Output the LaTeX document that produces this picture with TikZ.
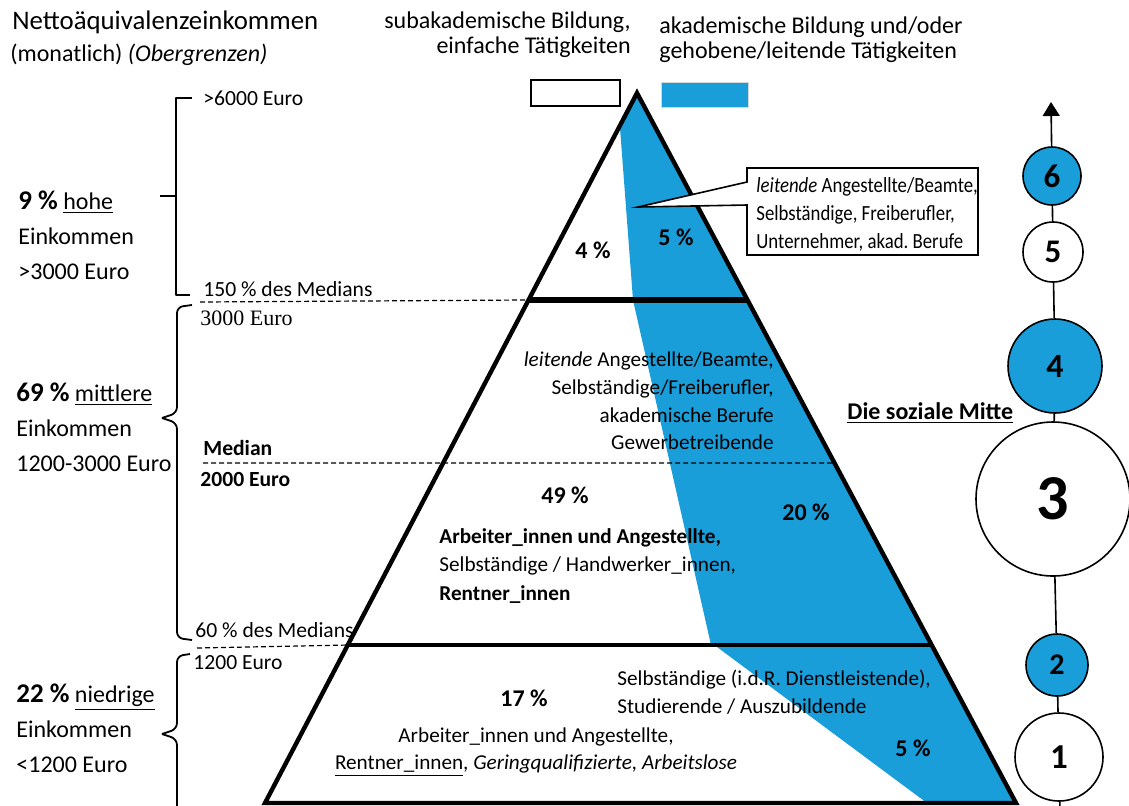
\documentclass[tikz,border=0pt]{standalone}
\usepackage{fontspec}
\setmainfont{Carlito}
\newfontfamily\timesfont{Liberation Serif}
\newfontfamily\narrowfont[FakeStretch=0.87]{Carlito}
\usetikzlibrary{arrows.meta,positioning,calc}
\definecolor{sky}{RGB}{26,158,218}
\definecolor{keyline}{RGB}{215,215,215}
\newcommand{\fs}[2]{\fontsize{#1}{#2}\selectfont}
\newcommand{\share}[1]{{\fs{13.5}{17.5}\bfseries #1}}
\tikzset{
  edge/.style={line width=2.2pt,draw=black,line join=miter},
  lvl/.style={dash pattern=on 2.5pt off 1.5pt,line width=0.6pt},
  brk/.style={line width=0.9pt,line join=round},
  lab/.style={inner sep=0pt,anchor=west,font=\fs{10.8}{13}},
  big/.style={inner sep=0pt,align=left,anchor=west,font=\fs{12}{17.5}},
  txt/.style={inner sep=0pt,font=\fs{10.6}{13.9}},
  pct/.style={inner sep=0pt,font=\fs{12}{14}\bfseries},
  ring/.style={circle,draw,line width=0.8pt,inner sep=0pt,font=\bfseries,fill=white},
  bluering/.style={ring,fill=sky},
  link/.style={line width=0.8pt}
}

\begin{document}
\begin{tikzpicture}[x=0.5pt,y=-0.5pt]
  \useasboundingbox (0,0) rectangle (1129,805);
  % pyramid corners
  \coordinate (apex) at (637,93);
  \coordinate (bl) at (265,803);
  \coordinate (br) at (1016,803);
  \coordinate (l1) at ($(apex)!0.2915!(bl)$);
  \coordinate (r1) at ($(apex)!0.2915!(br)$);
  \coordinate (l2) at ($(apex)!0.7775!(bl)$);
  \coordinate (r2) at ($(apex)!0.7775!(br)$);
  \coordinate (rm) at ($(apex)!0.5211!(br)$);
  \coordinate (r3) at ($(apex)!0.78!(br)$);

  % blue shares
  \fill[sky] (apex) -- (r2) -- (711,645) -- (633,300) -- (620,128) -- cycle;
  \fill[sky] (717,647) -- (r3) -- (br) -- (927,803) -- cycle;

  % income levels
  \draw[lvl] (200,302) -- (l1);
  \draw[lvl] (203,463) -- (rm);
  \draw[lvl] (197,648) -- (l2);

  % outline
  \draw[edge] (bl) -- (apex) -- (br) -- cycle;
  \draw[edge,line width=2.6pt] (l1) -- (r1);
  \draw[edge] (l2) -- (r2);

  % title and legend
  \node[inner sep=0pt,anchor=west,font=\fs{13.4}{15}] (title) at (12,22) {Nettoäquivalenzeinkommen};
  \node[inner sep=0pt,anchor=west,font=\fs{12}{14}] (title2) at (10,55) {(monatlich) \textit{(Obergrenzen)}};
  \node[inner sep=0pt,align=right,anchor=east,font=\fs{12}{12.5}] (sub) at (631,35) {subakademische Bildung,\\einfache Tätigkeiten};
  \node[inner sep=0pt,align=left,anchor=west,font=\fs{12}{12.5}] (aka) at (659,40) {akademische Bildung und/oder\\gehobene/leitende Tätigkeiten};
  \node[draw,line width=0.8pt,minimum width=44.5pt,minimum height=13pt,inner sep=0pt] (keywhite) at (575.5,93) {};
  \node[draw=keyline,fill=sky,minimum width=43.5pt,minimum height=12.5pt,inner sep=0pt] (keyblue) at (704.5,94.5) {};

  % brackets
  \draw[brk] (192,98) -- (176,98) -- (176,295) -- (190,295);
  \draw[brk] (160,196) -- (176,196);
  \draw[brk,rounded corners=3pt] (192,305) -- (177,307) -- (177,413) -- (162,418);
  \draw[brk,rounded corners=3pt] (162,418) -- (177,423) -- (177,638) -- (192,640);
  \draw[brk,rounded corners=3pt] (190,654) -- (177,656) -- (177,729) -- (162,734);
  \draw[brk,rounded corners=3pt] (162,734) -- (177,739) -- (177,810);

  % income groups
  \node[big] (high) at (18,235) {\share{9 \%} \underline{hohe}\\Einkommen\\>3000 Euro};
  \node[big] (mid) at (16,427) {\share{69 \%} \underline{mittlere}\\Einkommen\\1200-3000 Euro};
  \node[big] (low) at (16,728) {\share{22 \%} \underline{niedrige}\\Einkommen\\<1200 Euro};

  % level labels
  \node[lab] (top6000) at (203,98) {>6000 Euro};
  \node[lab] (med150) at (203,289) {150 \% des Medians};
  \node[lab,font=\timesfont\fs{11}{13}] (eur3000) at (200,318) {3000 Euro};
  \node[lab,font=\fs{10.8}{13}\bfseries] (median) at (203,448) {Median};
  \node[lab,font=\fs{10.8}{13}\bfseries] (eur2000) at (200,479) {2000 Euro};
  \node[lab] (med60) at (195,630) {60 \% des Medians};
  \node[lab] (eur1200) at (193,663) {1200 Euro};

  % top section
  \node[pct] (p4) at (593,250) {4 \%};
  \node[pct] (p5a) at (676,237) {5 \%};
  \draw[line width=0.8pt,fill=white] (747,182) -- (747,168) -- (978,168) -- (978,255) -- (747,255) -- (747,205) -- (638,207) -- cycle;
  \node[inner sep=0pt,align=left,anchor=west,font=\narrowfont\fs{10.8}{14}] (callout) at (756,214) {\textit{leitende} Angestellte/Beamte,\\Selbständige, Freiberufler,\\Unternehmer, akad.\ Berufe};

  % middle section
  \node[txt,align=right,anchor=east] (midhigh) at (774,401) {\textit{leitende} Angestellte/Beamte,\\Selbständige/Freiberufler,\\akademische Berufe\\Gewerbetreibende};
  \node[pct] (p49) at (565,495) {49 \%};
  \node[pct] (p20) at (806,512) {20 \%};
  \node[txt,align=left,anchor=west,font=\fs{10.6}{14.2}] (midlow) at (439,566) {\textbf{Arbeiter\_innen und Angestellte,}\\Selbständige / Handwerker\_innen,\\\textbf{Rentner\_innen}};

  % bottom section
  \node[pct] (p17) at (524,698) {17 \%};
  \node[txt,align=left,anchor=west] (lowself) at (617,692) {Selbständige (i.d.R. Dienstleistende),\\Studierende / Auszubildende};
  \node[txt,align=center] (lowwork) at (536,752) {Arbeiter\_innen und Angestellte,\\\underline{Rentner\_innen}, \textit{Geringqualifizierte, Arbeitslose}};
  \node[pct] (p5b) at (913,748) {5 \%};

  % social layers
  \node[font=\fs{12}{13}\bfseries,inner sep=0pt,anchor=west] (mitte) at (847,413) {\underline{Die soziale Mitte}};
  \node[bluering,minimum size=29pt,font=\fs{16.5}{18}\bfseries] (c6) at (1052,176) {6};
  \node[ring,minimum size=30pt,font=\fs{16.5}{18}\bfseries] (c5) at (1053,252) {5};
  \node[bluering,minimum size=47pt,font=\fs{17}{18}\bfseries] (c4) at (1055,366) {4};
  \node[ring,minimum size=77pt,font=\fs{32}{34}\bfseries] (c3) at (1053,499) {3};
  \node[bluering,minimum size=31pt,font=\fs{15}{17}\bfseries] (c2) at (1057,665) {2};
  \node[ring,minimum size=44pt,font=\fs{17.5}{19}\bfseries] (c1) at (1059,757) {1};
  \coordinate (up) at (1051,102);
  \coordinate (down) at (1060,810);
  \draw[link,-{Triangle[length=7pt,width=8.5pt]}] (c6) -- (up);
  \draw[link] (c6) -- (c5);
  \draw[link] (c5) -- (c4);
  \draw[link] (c4) -- (c3);
  \draw[link] (c3) -- (c2);
  \draw[link] (c2) -- (c1);
  \draw[link] (c1) -- (down);
\end{tikzpicture}
\end{document}
